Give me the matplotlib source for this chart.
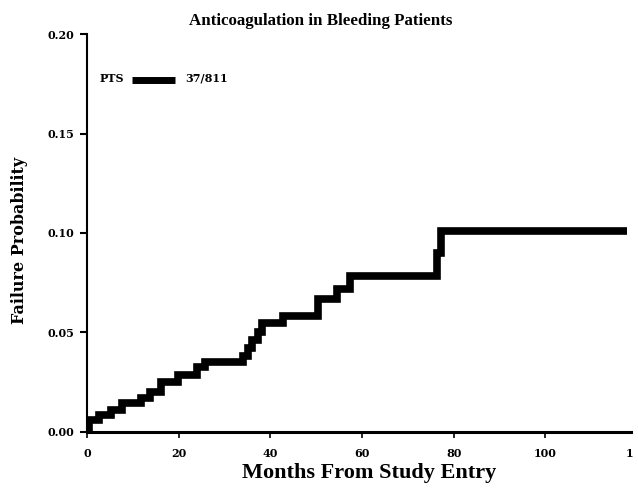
import matplotlib
matplotlib.use("Agg")
import matplotlib.pyplot as plt

# step points (months, failure probability)
months = [0, 0.4, 2.6, 5.2, 7.6, 11.8, 13.8, 16.2, 19.9, 24.0, 25.8, 34.0, 35.1,
          36.1, 37.2, 38.2, 42.8, 50.5, 54.5, 57.4, 76.4, 77.3, 117.9]
fail = [0, 0.0059, 0.0084, 0.0109, 0.0144, 0.017, 0.020, 0.025, 0.0285, 0.0326,
        0.0351, 0.038, 0.042, 0.046, 0.050, 0.0547, 0.0582, 0.0668, 0.0718,
        0.0784, 0.0899, 0.101, 0.101]

xticks = [0, 20, 40, 60, 80, 100]
yticks = [0.0, 0.05, 0.10, 0.15, 0.20]
ytick_labels = ["0.00", "0.05", "0.10", "0.15", "0.20"]
# the last x label is cropped in the source, only its first digit shows
last_xlabel = "1"

times = ["Liberation Serif", "DejaVu Serif"]
wide = ["DejaVu Serif"]

fig = plt.figure(figsize=(6.38, 4.92), dpi=100)
ax = fig.add_axes([0.1364, 0.1226, 0.862, 0.8077])

ax.step(months, fail, where="post", color="black", lw=5.5,
        solid_joinstyle="miter", solid_capstyle="butt")

ax.set_xlim(0, 120)
ax.set_ylim(0, 0.20)
ax.set_xticks(xticks)
ax.set_xticklabels([str(t) for t in xticks], fontsize=8, fontweight="bold",
                   family=wide)
ax.set_yticks(yticks)
ax.set_yticklabels(ytick_labels, fontsize=8, fontweight="bold", family=wide)

ax.spines["top"].set_visible(False)
ax.spines["right"].set_visible(False)
ax.spines["left"].set_linewidth(1.5)
ax.spines["bottom"].set_linewidth(2.2)
ax.spines["bottom"].set_bounds(0, 118.6)
ax.tick_params(axis="y", length=5, width=1.5, pad=4)
ax.tick_params(axis="x", length=4, width=1.2, pad=8)

# cropped tick label at the right edge
ax.annotate(last_xlabel, xy=(118.3, 0), xycoords=("data", "axes fraction"),
            xytext=(0, -12), textcoords="offset points", ha="center",
            va="top", fontsize=8, fontweight="bold", family=wide)

fig.text(0.502, 0.949, "Anticoagulation in Bleeding Patients", ha="center",
         va="baseline", fontsize=12.2, fontweight="bold", family=times)
ax.set_xlabel("Months From Study Entry", fontsize=16, fontweight="bold",
              family=times)
ax.xaxis.set_label_coords(0.513, -0.079)
ax.set_ylabel("Failure Probability", fontsize=11.5, fontweight="bold",
              family=wide)
ax.yaxis.set_label_coords(-0.107, 0.482)

# legend drawn by hand: label, line sample, count
ax.text(0.0236, 0.889, "PTS", transform=ax.transAxes, fontsize=8,
        fontweight="bold", va="center", family=wide)
ax.plot([0.0818, 0.16], [0.886, 0.886], transform=ax.transAxes,
        color="black", lw=5, solid_capstyle="butt")
ax.text(0.178, 0.889, "37/811", transform=ax.transAxes, fontsize=8,
        fontweight="bold", va="center", family=wide)

fig.savefig("out.png", dpi=100)
